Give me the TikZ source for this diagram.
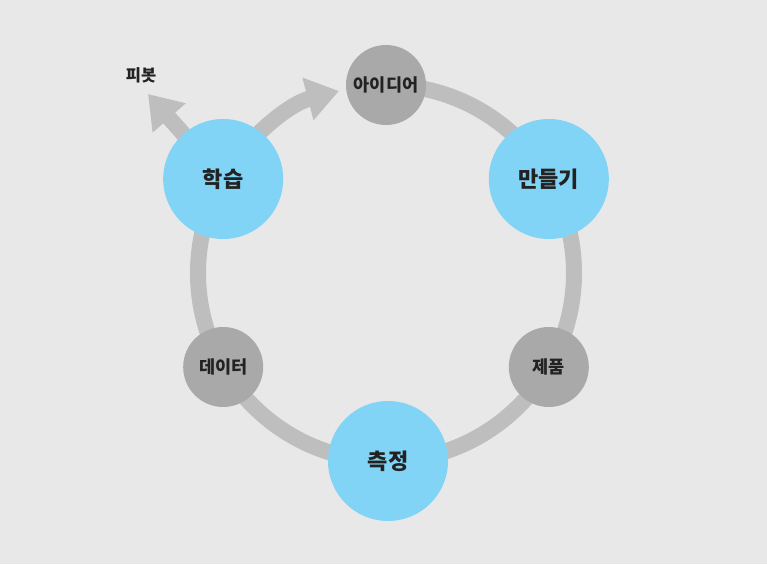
\documentclass[tikz,border=0pt]{standalone}
\usepackage{fontspec}
\setmainfont{Noto Sans CJK KR}
\usetikzlibrary{arrows.meta,calc}
\definecolor{bgc}{HTML}{E8E8E8}
\definecolor{ringc}{HTML}{BEBEBE}
\definecolor{grayn}{HTML}{A9A9A9}
\definecolor{bluen}{HTML}{81D4F6}
\definecolor{txt}{HTML}{222222}
\tikzset{
  ringline/.style={draw=ringc, line width=16pt, line cap=butt},
  bignode/.style={circle, fill=bluen, minimum size=120pt, inner sep=0pt, text=txt, font=\bfseries\fontsize{22}{26}\selectfont},
  smallnode/.style={circle, fill=grayn, minimum size=80pt, inner sep=0pt, text=txt, font=\bfseries\fontsize{17.5}{21}\selectfont},
  headtip/.style={-{Triangle[width=42pt,length=32pt]}},
  labeltext/.style={text=txt, font=\bfseries\fontsize{16.5}{20}\selectfont}
}
\begin{document}
\begin{tikzpicture}[x=1pt,y=1pt]
\fill[bgc] (0,0) rectangle (767,564);
\useasboundingbox (0,0) rectangle (767,564);
\coordinate (c) at (386,291);
% ring
\draw[ringline] (c) ++(90:188) arc[start angle=90, end angle=-210, radius=188];
% curved arrow learn -> idea
\draw[ringline, headtip] (c) ++(150:188) arc[start angle=150, end angle=104.5, radius=188];
% pivot arrow
\coordinate (pivottip) at (148,470);
\coordinate (learnc) at ($(c)+(150:188)$);
\draw[ringline, headtip] (learnc) -- (pivottip);
% nodes
\node[smallnode] (idea) at ($(c)+(90:188)$) {아이디어};
\node[bignode] (make) at ($(c)+(30:188)$) {만들기};
\node[smallnode] (product) at ($(c)+(-30:188)$) {제품};
\node[bignode] (measure) at ($(c)+(-90:188)+(2,0)$) {측정};
\node[smallnode] (data) at ($(c)+(210:188)$) {데이터};
\node[bignode] (learn) at (learnc) {학습};
\node[labeltext] (pivot) at (141,489) {피봇};
\end{tikzpicture}
\end{document}
